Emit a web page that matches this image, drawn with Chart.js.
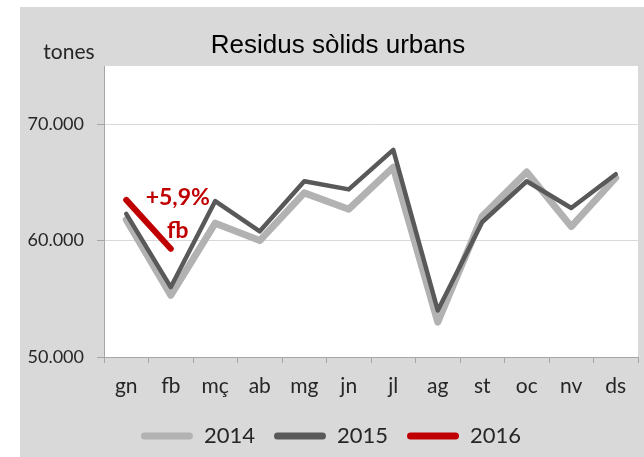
<!DOCTYPE html>
<html>
<head>
<meta charset="utf-8">
<script src="https://cdn.jsdelivr.net/npm/chart.js@4"></script>
<style>
  html, body { margin: 0; padding: 0; background: #fff; }
  #wrap { width: 644px; height: 457px; }
</style>
</head>
<body>
<div id="wrap"><canvas id="rsuChart"></canvas></div>
<script>
const months = ["gn", "fb", "mç", "ab", "mg", "jn", "jl", "ag", "st", "oc", "nv", "ds"]
const values2014 = [61800, 55300, 61500, 60000, 64100, 62700, 66300, 53000, 62100, 65900, 61200, 65400]
const values2015 = [62300, 56000, 63400, 60800, 65100, 64400, 67800, 54000, 61600, 65100, 62800, 65700]
const values2016 = [63500, 59300]
const yTicks = [50000, 60000, 70000]
const noteLines = ["+5,9%", "fb"]

const fmtThousands = (v) => String(v).replace(/\B(?=(\d{3})+(?!\d))/g, ".")

// grey frame + white plot area, like the spreadsheet chart
const backgroundPlugin = {
  id: "background",
  beforeDraw(chart) {
    const { ctx, chartArea } = chart
    ctx.save()
    ctx.fillStyle = "#ffffff"
    ctx.fillRect(0, 0, chart.width, chart.height)
    ctx.fillStyle = "#d9d9d9"
    ctx.fillRect(20, 7, chart.width - 20, chart.height - 7)
    ctx.fillStyle = "#ffffff"
    ctx.fillRect(chartArea.left, chartArea.top, chartArea.right - chartArea.left, chartArea.bottom - chartArea.top)
    ctx.restore()
  },
}

// title, unit label and the +5,9% note
const textPlugin = {
  id: "texts",
  afterDatasetsDraw(chart) {
    const { ctx, scales } = chart
    ctx.save()
    ctx.textAlign = "center"
    ctx.textBaseline = "middle"
    ctx.fillStyle = "#000000"
    ctx.font = "26px 'Liberation Sans', Arial, sans-serif"
    ctx.fillText("Residus sòlids urbans", 338, 46)
    ctx.fillStyle = "#262626"
    ctx.font = "21px Lato, sans-serif"
    ctx.fillText("tones", 69, 52)

    const xFb = scales.x.getPixelForValue(1)
    ctx.fillStyle = "#c00000"
    ctx.font = "bold 23px Lato, sans-serif"
    ctx.fillText(noteLines[0], xFb + 7, 198)
    ctx.fillText(noteLines[1], xFb + 7, 231)
    ctx.restore()
  },
}

const ctx = document.getElementById("rsuChart").getContext("2d")
const rsuChart = new Chart(ctx, {
  type: "line",
  data: {
    labels: months,
    datasets: [
      {
        label: "2014",
        data: values2014,
        borderColor: "#b2b2b2",
        backgroundColor: "#b2b2b2",
        borderWidth: 7,
        pointRadius: 0,
        tension: 0,
        borderJoinStyle: "round",
        borderCapStyle: "round",
        order: 3,
      },
      {
        label: "2015",
        data: values2015,
        borderColor: "#595959",
        backgroundColor: "#595959",
        borderWidth: 4.5,
        pointRadius: 0,
        tension: 0,
        borderJoinStyle: "round",
        borderCapStyle: "round",
        order: 2,
      },
      {
        label: "2016",
        data: values2016,
        borderColor: "#c00000",
        backgroundColor: "#c00000",
        borderWidth: 6,
        pointRadius: 0,
        tension: 0,
        borderCapStyle: "round",
        order: 1,
      },
    ],
  },
  options: {
    responsive: true,
    maintainAspectRatio: false,
    animation: false,
    layout: {
      padding: { left: 24, right: 6, top: 66, bottom: 0 },
    },
    plugins: {
      title: { display: false },
      tooltip: { enabled: false },
      legend: {
        position: "bottom",
        labels: {
          sort: (a, b) => a.datasetIndex - b.datasetIndex,
          generateLabels: (chart) =>
            Chart.defaults.plugins.legend.labels.generateLabels(chart).map((item) => ({ ...item, lineWidth: 0 })),
          boxWidth: 52,
          boxHeight: 7,
          useBorderRadius: true,
          borderRadius: 3.5,
          padding: 19,
          color: "#262626",
          font: { family: "Lato, sans-serif", size: 22 },
        },
      },
    },
    scales: {
      x: {
        offset: true,
        afterFit: (s) => { s.height = 49 },
        border: { color: "#a6a6a6" },
        grid: {
          offset: true,
          drawOnChartArea: false,
          tickLength: 6,
          tickColor: "#a6a6a6",
        },
        ticks: {
          padding: 11,
          color: "#262626",
          font: { family: "Lato, sans-serif", size: 21 },
          maxRotation: 0,
          autoSkip: false,
        },
      },
      y: {
        min: 50000,
        max: 75000,
        afterFit: (s) => { s.width = 80 },
        afterBuildTicks: (s) => { s.ticks = yTicks.map((v) => ({ value: v })) },
        border: { color: "#a6a6a6" },
        grid: {
          color: "#d9d9d9",
          tickColor: "#a6a6a6",
          tickLength: 7,
        },
        ticks: {
          padding: 13,
          color: "#262626",
          font: { family: "Lato, sans-serif", size: 18 },
          callback: (v) => fmtThousands(v),
        },
      },
    },
  },
  plugins: [backgroundPlugin, textPlugin],
})
</script>
</body>
</html>
